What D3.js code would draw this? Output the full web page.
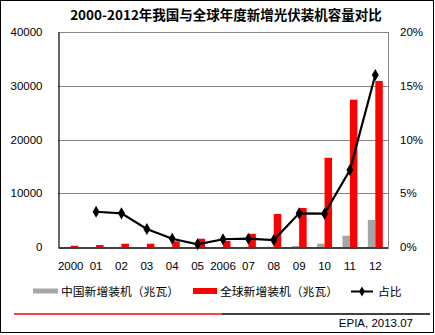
<!DOCTYPE html>
<html>
<head>
<meta charset="utf-8">
<script src="https://cdn.jsdelivr.net/npm/d3@7"></script>
<style>
  html, body { margin: 0; padding: 0; background: #fff; }
  svg { display: block; }
  text { font-family: "Liberation Sans", Arial, sans-serif; fill: #000; }
  .cjk { font-family: "Noto Sans CJK SC", sans-serif; }
</style>
</head>
<body>
<svg id="chart" width="435" height="335"></svg>
<script>
// Annual new PV installations (MW), China vs world, and China's share (%)
const categories = ["2000", "01", "02", "03", "04", "05", "2006", "07", "08", "09", "10", "11", "12"];
const chinaMW = [19, 3, 20, 10, 10, 5, 10, 20, 40, 190, 620, 2100, 5050];
const globalMW = [240, 370, 610, 610, 1060, 1540, 1120, 2450, 6150, 7260, 16600, 27400, 30900];
const sharePct = [null, 3.28, 3.13, 1.67, 0.77, 0.25, 0.72, 0.77, 0.65, 3.13, 3.1, 7.16, 16.0];
const leftTicks = [0, 10000, 20000, 30000, 40000];
const rightTicks = [0, 5, 10, 15, 20];

const seriesNames = ["中国新增装机（兆瓦）", "全球新增装机（兆瓦）", "占比"];
const title = "2000-2012年我国与全球年度新增光伏装机容量对比";
const source = "EPIA, 2013.07";

const svg = d3.select("#chart");
const plot = { left: 58, right: 388, top: 32, bottom: 247 };

// outer frame
svg.append("rect")
  .attr("x", 0.5).attr("y", 0.5).attr("width", 433).attr("height", 332)
  .attr("fill", "none").attr("stroke", "#000").attr("stroke-width", 1);

// title
svg.append("text").attr("class", "cjk")
  .attr("x", 226).attr("y", 20)
  .attr("text-anchor", "middle")
  .style("font-size", "13.5px").style("font-weight", "bold")
  .text(title);

const x = d3.scaleBand().domain(categories).range([plot.left, plot.right]).paddingInner(0.41).paddingOuter(0.205);
const xCenter = d3.scaleBand().domain(categories).range([plot.left, plot.right]);
const xSub = d3.scaleBand().domain(["china", "global"]).range([0, x.bandwidth()]);
const yL = d3.scaleLinear().domain([0, 40000]).range([plot.bottom, plot.top]);
const yR = d3.scaleLinear().domain([0, 20]).range([plot.bottom, plot.top]);

// gridlines
svg.append("g")
  .attr("transform", `translate(${plot.left},0)`)
  .call(d3.axisLeft(yL).tickValues(leftTicks.slice(1)).tickSize(-(plot.right - plot.left)).tickFormat(""))
  .call(g => g.select(".domain").remove())
  .call(g => g.selectAll("line").attr("stroke", "#858585").attr("shape-rendering", "crispEdges"));

// right axis line (gray)
svg.append("line")
  .attr("x1", plot.right + 0.5).attr("x2", plot.right + 0.5)
  .attr("y1", plot.top).attr("y2", plot.bottom)
  .attr("stroke", "#858585");

// bars
const barData = categories.map((c, i) => ({ c, china: chinaMW[i], global: globalMW[i] }));
const groups = svg.append("g").selectAll("g").data(barData).join("g")
  .attr("transform", d => `translate(${x(d.c)},0)`);
groups.append("rect")
  .attr("x", xSub("china")).attr("width", xSub.bandwidth())
  .attr("y", d => yL(d.china)).attr("height", d => yL(0) - yL(d.china))
  .attr("fill", "#a6a6a6");
groups.append("rect")
  .attr("x", xSub("global")).attr("width", xSub.bandwidth())
  .attr("y", d => yL(d.global)).attr("height", d => yL(0) - yL(d.global))
  .attr("fill", "#ff0000");

// left axis
svg.append("g")
  .attr("transform", `translate(${plot.left + 0.5},0)`)
  .call(d3.axisLeft(yL).tickValues(leftTicks).tickSize(0).tickPadding(16).tickFormat(d3.format("d")))
  .call(g => g.select(".domain").attr("stroke", "#000").attr("stroke-width", 1.2))
  .call(g => g.selectAll("text").style("font-size", "11.5px").attr("fill", "#000"));

// right axis labels
svg.append("g")
  .attr("transform", `translate(${plot.right},0)`)
  .call(d3.axisRight(yR).tickValues(rightTicks).tickSize(0).tickPadding(12).tickFormat(d => d + "%"))
  .call(g => g.select(".domain").remove())
  .call(g => g.selectAll("text").style("font-size", "11.5px").attr("fill", "#000"));

// bottom axis
svg.append("g")
  .attr("transform", `translate(0,${plot.bottom + 0.5})`)
  .call(d3.axisBottom(xCenter).tickSize(0).tickPadding(14))
  .call(g => g.select(".domain").attr("stroke", "#000").attr("stroke-width", 1.5))
  .call(g => g.selectAll("text").style("font-size", "11.5px").attr("fill", "#000"));

// share line
const lineData = categories.map((c, i) => ({ c, v: sharePct[i] })).filter(d => d.v != null);
const cx = d => xCenter(d.c) + xCenter.bandwidth() / 2;
svg.append("path")
  .datum(lineData)
  .attr("fill", "none").attr("stroke", "#000").attr("stroke-width", 2.2)
  .attr("d", d3.line().x(cx).y(d => yR(d.v)));
const diamond = d3.symbol().type(d3.symbolDiamond).size(42);
svg.append("g").selectAll("path").data(lineData).join("path")
  .attr("transform", d => `translate(${cx(d)},${yR(d.v)})`)
  .attr("d", diamond).attr("fill", "#000");

// legend
const lg = svg.append("g");
lg.append("rect").attr("x", 33).attr("y", 288.5).attr("width", 25).attr("height", 5).attr("fill", "#a6a6a6");
lg.append("text").attr("class", "cjk").attr("x", 61).attr("y", 296).style("font-size", "11.8px").text(seriesNames[0]);
lg.append("rect").attr("x", 193).attr("y", 288).attr("width", 24).attr("height", 6).attr("fill", "#ff0000");
lg.append("text").attr("class", "cjk").attr("x", 220).attr("y", 296).style("font-size", "11.8px").text(seriesNames[1]);
lg.append("line").attr("x1", 351).attr("x2", 373).attr("y1", 291.5).attr("y2", 291.5).attr("stroke", "#000").attr("stroke-width", 2);
lg.append("path").attr("transform", "translate(362,291.5)").attr("d", d3.symbol().type(d3.symbolDiamond).size(30)).attr("fill", "#000");
lg.append("text").attr("class", "cjk").attr("x", 378).attr("y", 296).style("font-size", "11.8px").text(seriesNames[2]);

// footer rule and source
svg.append("line").attr("x1", 14).attr("x2", 222).attr("y1", 314).attr("y2", 314).attr("stroke", "#ff0000").attr("stroke-width", 1.5);
svg.append("line").attr("x1", 222).attr("x2", 430).attr("y1", 314).attr("y2", 314).attr("stroke", "#000").attr("stroke-width", 1.5);
svg.append("text").attr("x", 413).attr("y", 327).attr("text-anchor", "end").style("font-size", "11.5px").text(source);
</script>
</body>
</html>
